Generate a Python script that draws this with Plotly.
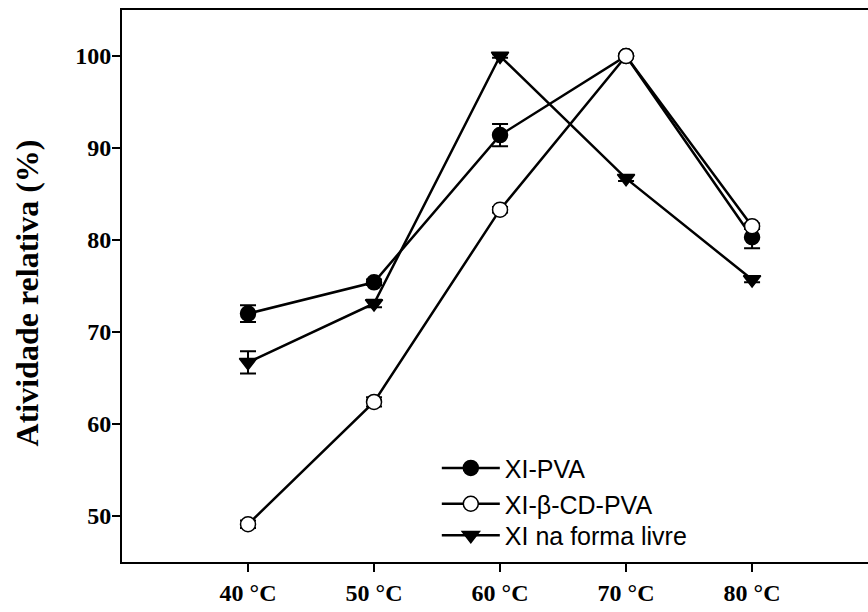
import plotly.graph_objects as go

# Temperature (°C) and relative activity (%) for each enzyme preparation
temps = [40, 50, 60, 70, 80]
tick_labels = ["40 °C", "50 °C", "60 °C", "70 °C", "80 °C"]

xi_pva = [72.0, 75.4, 91.4, 100.0, 80.3]
xi_pva_err = [0.9, 0.3, 1.2, 0.0, 1.2]

xi_bcd_pva = [49.1, 62.4, 83.3, 100.0, 81.5]
xi_bcd_pva_err = [0.4, 0.5, 0.3, 0.0, 0.3]

xi_livre = [66.7, 73.1, 100.0, 86.7, 75.7]
xi_livre_err = [1.2, 0.4, 0.2, 0.3, 0.3]

series = [
    ("XI-PVA", xi_pva, xi_pva_err, "circle", "black"),
    ("XI-β-CD-PVA", xi_bcd_pva, xi_bcd_pva_err, "circle", "white"),
    ("XI na forma livre", xi_livre, xi_livre_err, "triangle-down", "black"),
]

# one legend box per series so each row can be placed on its own
legend_ids = ["legend", "legend2", "legend3"]
legend_rows = [0.170, 0.105, 0.048]

fig = go.Figure()
for (name, vals, errs, symbol, fill), lid in zip(series, legend_ids):
    fig.add_trace(go.Scatter(
        x=temps, y=vals, name=name, mode="lines+markers",
        legend=lid,
        line=dict(color="black", width=2.5),
        marker=dict(symbol=symbol, size=15, color=fill,
                    line=dict(color="black", width=1.5)),
        error_y=dict(type="data", array=errs, visible=True,
                     color="black", thickness=2, width=8),
    ))

tick_font = dict(family="Liberation Serif", size=24, color="black", weight="bold")
legend_font = dict(family="Liberation Sans", size=25, color="black")

legends = {}
for lid, ypos in zip(legend_ids, legend_rows):
    legends[lid] = dict(
        x=0.422, y=ypos, xanchor="left", yanchor="middle",
        font=legend_font, bgcolor="rgba(0,0,0,0)", itemwidth=58,
    )

fig.update_layout(
    width=868, height=612,
    margin=dict(l=122, r=0, t=10, b=50),
    plot_bgcolor="white", paper_bgcolor="white",
    showlegend=True,
    xaxis=dict(
        range=[30, 89.2], tickvals=temps, ticktext=tick_labels,
        showline=True, linecolor="black", linewidth=2, mirror=True,
        ticks="outside", ticklen=8, tickwidth=2, tickcolor="black",
        showgrid=False, zeroline=False,
        tickfont=tick_font,
    ),
    yaxis=dict(
        range=[45, 105], tickvals=[50, 60, 70, 80, 90, 100],
        showline=True, linecolor="black", linewidth=2,
        ticks="outside", ticklen=8, tickwidth=2, tickcolor="black",
        showgrid=False, zeroline=False, ticklabelstandoff=-4,
        tickfont=tick_font,
    ),
    annotations=[dict(
        text="Atividade relativa (%)", textangle=-90,
        xref="paper", yref="paper", x=-0.127, y=0.487,
        xanchor="center", yanchor="middle", showarrow=False,
        font=dict(family="Liberation Serif", size=32, color="black", weight="bold"),
    )],
    **legends,
)

fig.write_html("out.html")
